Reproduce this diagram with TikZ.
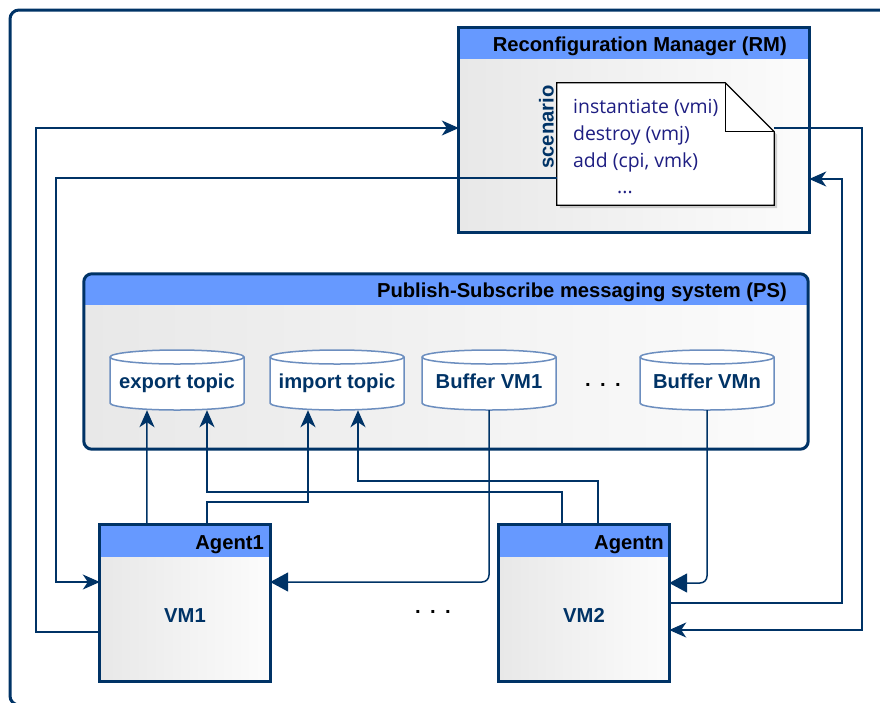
\documentclass[tikz,border=0pt]{standalone}
\usepackage{fontspec}
\setmainfont{Liberation Sans}
\newfontfamily\notefont{Open Sans}
\usetikzlibrary{arrows.meta,shadows,calc}
\definecolor{navy}{RGB}{0,51,102}
\definecolor{hdr}{RGB}{102,153,255}
\definecolor{cylblue}{RGB}{108,142,191}
\definecolor{notetext}{RGB}{30,30,130}
\definecolor{bodyL}{RGB}{232,232,232}
\definecolor{bodyR}{RGB}{252,252,252}
\newcommand\dbcyl[4]{%
  \path[cylline,fill=white] (#2-67,#3-23) arc[start angle=180,end angle=360,x radius=67,y radius=7]
     -- (#2+67,#3+23) arc[start angle=0,end angle=180,x radius=67,y radius=7] -- cycle;
  \path[cylline] (#2-67,#3-23) arc[start angle=180,end angle=0,x radius=67,y radius=7];
  \node[cylnode] (#1) at (#2,#3) {};
  \node[lbl,anchor=base] (#1t) at (#2,#3+8) {#4};
}
\begin{document}
\begin{tikzpicture}[x=1pt,y=-1pt,
  bodyshade/.style={rectangle, inner sep=0pt, left color=bodyL, right color=bodyR},
  frameline/.style={draw=navy, line width=3pt},
  title/.style={font=\bfseries\fontsize{20.2}{23}\selectfont, text=black, inner sep=0pt},
  lbl/.style={font=\bfseries\fontsize{20.2}{23}\selectfont, text=navy, inner sep=0pt},
  notetxt/.style={font=\notefont\fontsize{19.4}{22}\selectfont, text=notetext, inner sep=0pt, anchor=base west},
  cylline/.style={draw=cylblue, line width=1.5pt},
  cylnode/.style={rectangle, inner sep=0pt, minimum width=134pt, minimum height=60pt},
  conn/.style={draw=navy, line width=1.5pt},
  stl/.style={-{Stealth[length=17pt,width=15pt,inset=5pt]}},
  tri/.style={-{Triangle[length=18pt,width=19pt]}},
  dots/.style={font=\bfseries\fontsize{20.2}{23}\selectfont, text=black, inner sep=0pt, anchor=base}
]
\useasboundingbox (0,0) rectangle (880,702);
\fill[white] (0,0) rectangle (880,702);
% outer frame
\begin{scope}
  \clip (0,0) rectangle (880,702);
  \draw[navy, line width=3pt, rounded corners=9pt] (10,10) rectangle (900,705);
\end{scope}

% Reconfiguration Manager
\node[bodyshade, minimum width=350pt, minimum height=204pt] (rm) at (634,130) {};
\fill[hdr] (rm.north west) rectangle ([yshift=-31pt]rm.north east);
\draw[frameline] (rm.north west) rectangle (rm.south east);
\node[title, anchor=base east] (rmt) at (787,51) {Reconfiguration Manager (RM)};
\node[lbl, rotate=90] (scen) at (546.5,127) {scenario};

% note
\node[rectangle, inner sep=0pt, minimum width=217pt, minimum height=122pt] (note) at (665.5,144) {};
\draw[black, line width=1.2pt, fill=white, drop shadow={opacity=0.35, shadow xshift=3pt, shadow yshift=-3pt}]
  (note.north west) -- ([xshift=-49pt]note.north east) -- ([yshift=-49pt]note.north east)
  -- (note.south east) -- (note.south west) -- cycle;
\draw[black, line width=1.2pt] ([xshift=-49pt]note.north east) |- ([yshift=-49pt]note.north east);
\node[notetxt] (n1) at (573,113) {instantiate (vmi)};
\node[notetxt] (n2) at (573,140) {destroy (vmj)};
\node[notetxt] (n3) at (573,167) {add (cpi, vmk)};
\node[notetxt] (n4) at (617,193) {...};

% Publish-Subscribe
\node[bodyshade, rounded corners=8pt, minimum width=724pt, minimum height=175pt] (ps) at (446,361.5) {};
\begin{scope}
  \clip[rounded corners=8pt] (ps.north west) rectangle (ps.south east);
  \fill[hdr] (ps.north west) rectangle ([yshift=-31pt]ps.north east);
\end{scope}
\draw[frameline, rounded corners=8pt] (ps.north west) rectangle (ps.south east);
\node[title, anchor=base east] (pst) at (787,297) {Publish-Subscribe messaging system (PS)};

\dbcyl{export}{177}{380}{export topic}
\dbcyl{import}{337}{380}{import topic}
\dbcyl{buf1}{489}{380}{Buffer VM1}
\dbcyl{bufn}{707}{380}{Buffer VMn}
\node[dots] (dotsa) at (603,386) {.\hspace{9.4pt}.\hspace{9.4pt}.};

% Agents
\node[bodyshade, minimum width=170pt, minimum height=156pt] (a1) at (185,603) {};
\fill[hdr] (a1.north west) rectangle ([yshift=-32pt]a1.north east);
\draw[frameline] (a1.north west) rectangle (a1.south east);
\node[title, anchor=base east] (a1t) at (264,549) {Agent1};
\node[lbl, anchor=base] (a1v) at (185,622) {VM1};

\node[bodyshade, minimum width=170pt, minimum height=156pt] (an) at (584,603) {};
\fill[hdr] (an.north west) rectangle ([yshift=-32pt]an.north east);
\draw[frameline] (an.north west) rectangle (an.south east);
\node[title, anchor=base east] (ant) at (664,549) {Agentn};
\node[lbl, anchor=base] (anv) at (584,622) {VM2};

\node[dots] (dotsb) at (433,613) {.\hspace{9.4pt}.\hspace{9.4pt}.};

% connectors
\draw[conn,stl] ([xshift=47pt]a1.north west) -- ([xshift=-30pt]export.south);
\draw[conn,stl] ([xshift=107pt]a1.north west) -- ++(0,-23) -| ([xshift=-29pt]import.south);
\draw[conn,stl] ([xshift=63pt]an.north west) -- ++(0,-33) -| ([xshift=30pt]export.south);
\draw[conn,stl] ([xshift=99pt]an.north west) -- ++(0,-44) -| ([xshift=21pt]import.south);
\draw[conn,tri,rounded corners=7pt] (buf1.south) |- ([yshift=21pt]a1.east);
\draw[conn,tri,rounded corners=7pt] (bufn.south) |- ([yshift=20pt]an.east);
\draw[conn,stl] (an.east) -- ++(173,0) |- ([yshift=-49pt]rm.east);
\draw[conn,stl] ([yshift=-45pt]note.north east) -- ++(88,0) |- ([yshift=-27pt]an.east);
\draw[conn,stl] ([yshift=-29pt]a1.west) -- ++(-64,0) |- ([yshift=2pt]rm.west);
\draw[conn,stl] ([yshift=-34pt]note.west) -- ++(-501,0) |- ([yshift=21pt]a1.west);
\end{tikzpicture}
\end{document}
